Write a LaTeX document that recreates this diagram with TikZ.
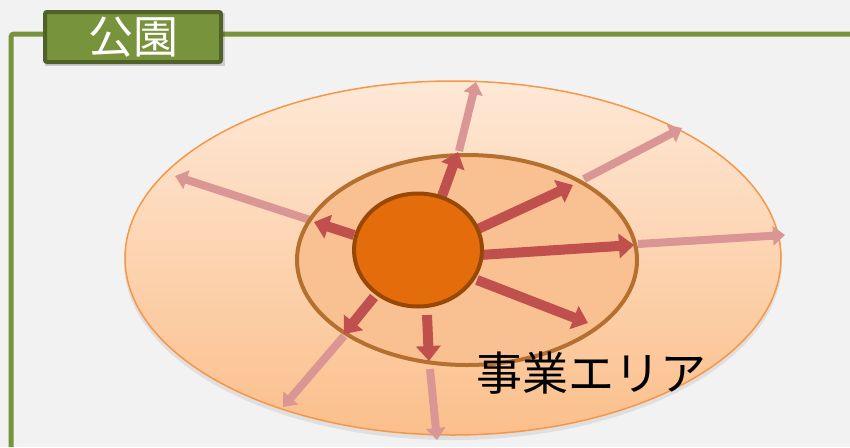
\documentclass[tikz,border=0pt]{standalone}
\usepackage{fontspec}
\newfontfamily\cjk{Noto Sans CJK JP}
\usetikzlibrary{shapes.geometric,arrows.meta}
\definecolor{bg}{HTML}{F2F2F2}
\definecolor{frameg}{HTML}{77933C}
\definecolor{framed}{HTML}{4F6228}
\definecolor{outerb}{HTML}{F79646}
\definecolor{outert}{HTML}{FEE8D6}
\definecolor{outerbt}{HTML}{FBBF8B}
\definecolor{innerf}{HTML}{F9C191}
\definecolor{innerb}{HTML}{B5702F}
\definecolor{coref}{HTML}{E46C0A}
\definecolor{coreb}{HTML}{974806}
\definecolor{darkarr}{HTML}{C0504D}
\definecolor{lightarr}{HTML}{D99694}
\tikzset{
  frameline/.style={draw=frameg, line width=5pt, rounded corners=3pt},
  labelbox/.style={fill=frameg, draw=framed, line width=4pt, rounded corners=2pt,
    minimum width=176pt, minimum height=50pt, inner sep=0pt, text=white,
    font=\cjk\fontsize{45}{45}\selectfont},
  outerell/.style={ellipse, draw=outerb, line width=1.5pt, top color=outert, bottom color=outerbt,
    minimum width=656pt, minimum height=354pt, inner sep=0pt},
  innerell/.style={ellipse, draw=innerb, fill=innerf, line width=4pt,
    minimum width=340pt, minimum height=210pt, inner sep=0pt},
  coreell/.style={ellipse, draw=coreb, fill=coref, line width=4pt,
    minimum width=128pt, minimum height=113pt, inner sep=0pt},
  darr/.style={draw=darkarr, line width=10pt, -{Triangle[length=15pt,width=24pt]}},
  larr/.style={draw=lightarr, line width=8pt, -{Triangle[length=12pt,width=19pt]}},
  areatext/.style={font=\cjk\fontsize{46}{46}\selectfont, text=black, inner sep=0pt}
}
\begin{document}
\begin{tikzpicture}[x=1pt,y=-1pt]
\fill[bg] (0,0) rectangle (850,447);
\useasboundingbox (0,0) rectangle (850,447);
% frame
\draw[frameline] (11,447) -- (11,34) -- (850,34);
\fill[black, opacity=0.15] (45,13) rectangle (225,66);
\node[labelbox] (title) at (133,37) {公園};
% outer ellipse with soft shadow
\fill[black, opacity=0.08] (453,262) ellipse [x radius=329pt, y radius=178pt];
\node[outerell] (park) at (453,258) {};
% light arrows
\coordinate (l1s) at (459,151); \coordinate (l1e) at (476,82);
\coordinate (l2s) at (584,179); \coordinate (l2e) at (682,128);
\coordinate (l3s) at (638,244); \coordinate (l3e) at (785,235);
\coordinate (l4s) at (344,336); \coordinate (l4e) at (283,407);
\coordinate (l5s) at (430,369); \coordinate (l5e) at (437,440);
\coordinate (l6s) at (310,220); \coordinate (l6e) at (175,176);
\draw[larr] (l1s) -- (l1e);
\draw[larr] (l2s) -- (l2e);
\draw[larr] (l3s) -- (l3e);
\draw[larr] (l4s) -- (l4e);
\draw[larr] (l5s) -- (l5e);
\draw[larr] (l6s) -- (l6e);
% inner ellipse
\node[innerell] (inner) at (467,260) {};
% dark arrows
\coordinate (d1s) at (442,196); \coordinate (d1e) at (458,152);
\coordinate (d2s) at (478,229); \coordinate (d2e) at (573,185);
\coordinate (d3s) at (480,255); \coordinate (d3e) at (634,245);
\coordinate (d4s) at (477,280); \coordinate (d4e) at (588,323);
\coordinate (d5s) at (427,315); \coordinate (d5e) at (429,361);
\coordinate (d6s) at (374,297); \coordinate (d6e) at (344,334);
\coordinate (d7s) at (354,235); \coordinate (d7e) at (314,222);
\draw[darr] (d1s) -- (d1e);
\draw[darr] (d2s) -- (d2e);
\draw[darr] (d3s) -- (d3e);
\draw[darr] (d4s) -- (d4e);
\draw[darr] (d5s) -- (d5e);
\draw[darr] (d6s) -- (d6e);
\draw[darr] (d7s) -- (d7e);
% core
\node[coreell] (core) at (418,250) {};
% label
\node[areatext] (area) at (591,373) {事業エリア};
\end{tikzpicture}
\end{document}
